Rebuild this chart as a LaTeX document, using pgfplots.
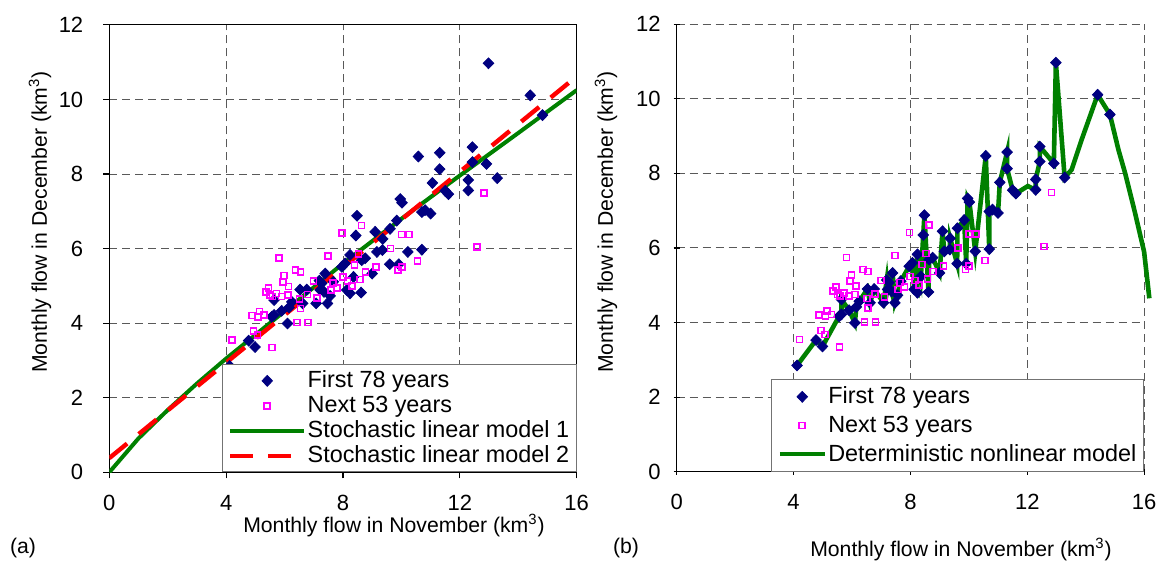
\documentclass[border=0pt]{standalone}
\usepackage{fontspec}
\setmainfont{Liberation Sans}
\usepackage{pgfplots}
\usepackage{pgfplotstable}
\pgfplotsset{compat=1.18}

\definecolor{navyblue}{RGB}{0,0,128}
\definecolor{pinkmag}{RGB}{255,0,255}
\definecolor{modelgreen}{RGB}{0,128,0}
\definecolor{modelred}{RGB}{255,0,0}

% first 78 years (Nov, Dec), km^3
\pgfplotstableread{
x y
4.12 2.85
4.77 3.53
4.99 3.36
5.56 4.17
5.64 4.22
5.64 4.62
5.90 4.33
6.10 3.99
6.15 4.42
6.25 4.57
6.53 4.90
6.62 4.53
6.76 4.90
7.08 4.53
7.19 5.14
7.22 4.89
7.27 5.07
7.35 4.84
7.39 5.33
7.47 4.53
7.56 4.73
7.67 5.11
7.96 5.51
8.07 5.60
8.13 4.89
8.24 4.80
8.24 5.83
8.36 5.24
8.44 6.35
8.48 6.88
8.62 4.82
8.64 5.69
8.76 5.74
9.00 5.33
9.10 6.45
9.16 5.91
9.35 5.96
9.36 6.26
9.60 5.58
9.61 6.53
9.84 6.75
9.91 5.58
9.96 7.33
10.02 7.23
10.22 5.91
10.58 8.47
10.70 5.97
10.70 6.98
10.81 7.03
11.00 6.94
11.06 7.76
11.31 8.57
11.31 8.13
11.50 7.55
11.61 7.46
12.29 7.56
12.29 7.84
12.43 8.32
12.43 8.72
12.91 8.27
12.98 10.97
13.28 7.89
14.41 10.11
14.83 9.58
}\firstyears

% next 53 years
\pgfplotstableread{
x y
4.21 3.55
4.88 4.21
4.94 3.79
5.08 3.68
5.09 4.17
5.14 4.31
5.30 4.22
5.36 4.84
5.45 4.95
5.50 4.75
5.57 3.35
5.58 4.71
5.73 4.80
5.81 5.75
5.90 4.71
5.94 5.11
5.99 5.28
6.11 4.75
6.13 4.98
6.37 5.42
6.43 4.02
6.51 4.65
6.54 5.37
6.55 4.39
6.78 4.77
6.80 4.02
6.99 5.13
7.12 4.68
7.48 5.80
7.58 4.89
7.65 5.07
7.80 4.95
7.97 6.42
7.99 5.24
8.15 5.13
8.30 5.00
8.39 5.56
8.53 5.85
8.59 5.17
8.64 6.62
8.77 5.37
9.13 5.51
9.62 6.00
9.88 5.42
10.00 6.38
10.01 5.51
10.25 6.38
10.55 5.66
12.58 6.04
12.83 7.49
}\nextyears

% stochastic linear models
\pgfplotstableread{
x y
0 0
1 0.91
2 1.67
3 2.38
4 3.05
6 4.32
8 5.60
10 6.80
12 7.96
14 9.10
16 10.25
}\linmodelone

\pgfplotstableread{
x y
0 0.38
16 10.62
}\linmodeltwo

% deterministic nonlinear model
\pgfplotstableread{
x y
4.12 2.85
4.77 3.53
4.99 3.36
5.56 4.17
5.64 4.22
5.64 4.62
5.90 4.33
6.10 3.99
6.15 4.42
6.25 4.57
6.53 4.90
6.62 4.53
6.76 4.90
7.08 4.53
7.19 5.14
7.22 4.89
7.27 5.07
7.35 4.84
7.39 5.33
7.47 4.53
7.56 4.73
7.67 5.11
7.96 5.51
8.07 5.60
8.13 4.89
8.24 4.80
8.24 5.83
8.36 5.24
8.44 6.35
8.48 6.88
8.62 4.82
8.64 5.69
8.76 5.74
9.00 5.33
9.10 6.45
9.16 5.91
9.35 5.96
9.36 6.26
9.60 5.58
9.61 6.53
9.84 6.75
9.91 5.58
9.96 7.33
10.02 7.23
10.22 5.91
10.58 8.47
10.70 5.97
10.70 6.98
10.81 7.03
11.00 6.94
11.06 7.76
11.31 8.57
11.31 8.13
11.50 7.55
11.61 7.46
12.02 7.66
12.29 7.56
12.29 7.84
12.43 8.32
12.43 8.72
12.91 8.27
12.98 10.97
13.28 7.89
13.52 8.10
13.86 8.90
14.41 10.11
14.83 9.58
15.12 8.64
15.35 8.01
15.69 6.94
16.00 5.90
16.18 4.65
}\nonlinmodel

\pgfplotsset{
  flowaxis/.style={
    scale only axis,
    width=233.7pt, height=223.7pt,
    xmin=0, xmax=16, ymin=0, ymax=12,
    xtick={0,4,8,12,16}, ytick={0,2,4,6,8,10,12},
    tick align=outside, major tick length=3pt,
    tick style={black, line width=0.6pt},
    axis line style={black, line width=0.6pt},
    grid=major,
    grid style={black!65, line width=0.5pt, dash pattern=on 4pt off 2.5pt},
    tick label style={font=\fontsize{11}{13}\selectfont},
    /pgf/number format/assume math mode=true,
    legend cell align=left,
  },
  firstmarks/.style={only marks, mark=diamond*, mark size=2.7pt,
    mark options={xscale=1.3, draw=navyblue, fill=navyblue}},
  nextmarks/.style={only marks, mark=square, mark size=1.5pt,
    mark options={draw=pinkmag, line width=0.8pt}},
}

\begin{document}
\begin{tikzpicture}
\useasboundingbox (-54.65pt,-46.35pt) rectangle (524.35pt,236.15pt);

% (a) linear models
\begin{axis}[flowaxis,
    at={(0pt,0pt)}, anchor=south west,
    tick pos=left,
    xticklabel style={anchor=center, yshift=-12.5pt},
    yticklabel style={anchor=east, xshift=-6.5pt},
    legend style={at={(1,0)}, anchor=south east, draw=black!55, fill=white,
      font=\fontsize{11.7}{13}\selectfont, inner xsep=3pt, inner ysep=2.5pt,
      row sep=1.4pt, nodes={inner sep=0.6pt}},
    legend image code/.code={\draw[mark repeat=2,mark phase=2,#1]
      plot coordinates {(0pt,0pt) (18.5pt,0pt) (37pt,0pt)};},
  ]
\addplot[firstmarks] table {\firstyears};
\addlegendentry{First 78 years}
\addplot[nextmarks] table {\nextyears};
\addlegendentry{Next 53 years}
\addplot[modelgreen, line width=2pt, no marks] table {\linmodelone};
\addlegendentry{Stochastic linear model 1}
\addplot[modelred, line width=2.2pt, no marks, dash pattern=on 11.5pt off 7.5pt] table {\linmodeltwo};
\addlegendentry{Stochastic linear model 2}
\end{axis}

% (b) nonlinear model
\begin{axis}[flowaxis,
    at={(283.7pt,0.3pt)}, anchor=south west,
    axis lines=left, axis line style={-},
    clip=false,
    xticklabel style={anchor=center, yshift=-13.5pt},
    yticklabel style={anchor=east, xshift=-3pt},
    legend style={at={(1,0)}, anchor=south east, draw=black!55, fill=white,
      font=\fontsize{11.7}{13}\selectfont, inner xsep=3pt, inner ysep=3pt,
      row sep=3.3pt, nodes={inner sep=0.6pt}},
    legend image code/.code={\draw[mark repeat=2,mark phase=2,#1]
      plot coordinates {(0pt,0pt) (11.25pt,0pt) (22.5pt,0pt)};},
  ]
\addplot[modelgreen, line width=2.3pt, no marks, forget plot] table {\nonlinmodel};
\addplot[firstmarks] table {\firstyears};
\addlegendentry{First 78 years}
\addplot[nextmarks] table {\nextyears};
\addlegendentry{Next 53 years}
\addlegendimage{modelgreen, line width=2.3pt}
\addlegendentry{Deterministic nonlinear model}
\end{axis}

\begin{scope}[font=\fontsize{10.6}{13}\selectfont]
\node[rotate=90] at (-34.65pt,125.15pt) {Monthly flow in December (km\textsuperscript{3})};
\node[rotate=90] at (248.35pt,125.15pt) {Monthly flow in December (km\textsuperscript{3})};
\node at (142.35pt,-26.5pt) {Monthly flow in November (km\textsuperscript{3})};
\node at (425.85pt,-38.85pt) {Monthly flow in November (km\textsuperscript{3})};
\node at (-43.15pt,-37.85pt) {(a)};
\node at (258.35pt,-37.85pt) {(b)};
\end{scope}
\end{tikzpicture}
\end{document}
